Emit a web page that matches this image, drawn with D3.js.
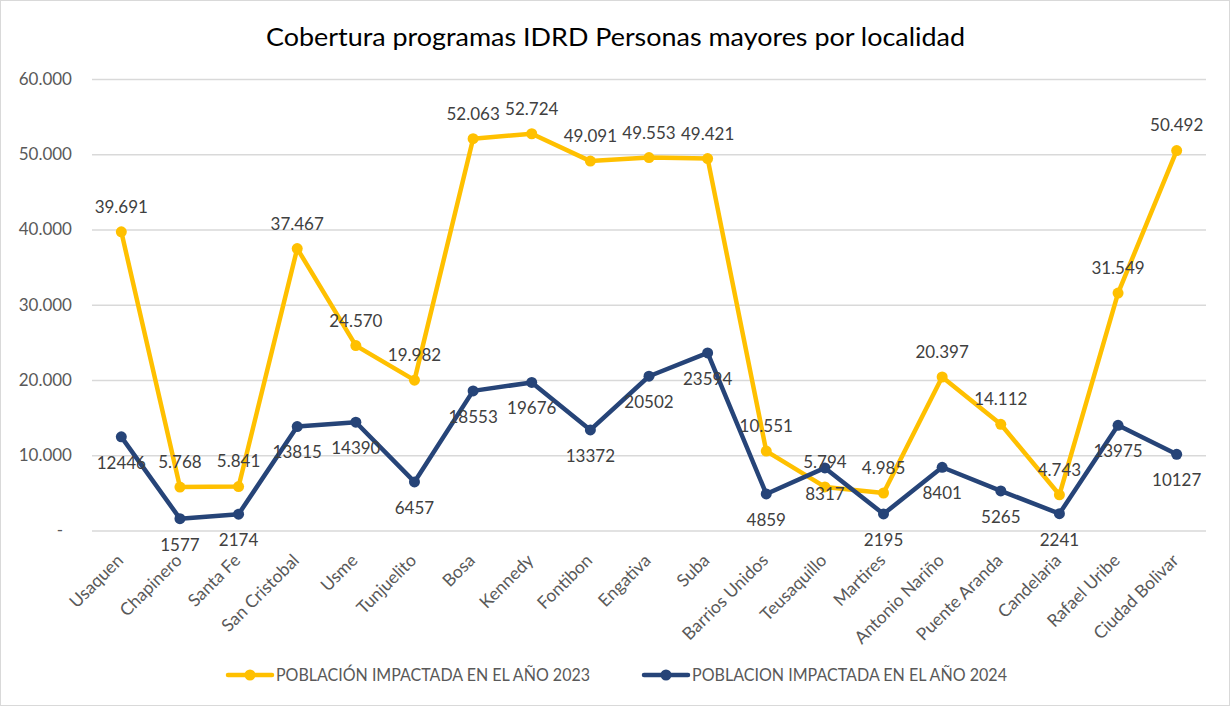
<!DOCTYPE html>
<html><head><meta charset="utf-8">
<script src="https://cdn.jsdelivr.net/npm/d3@7"></script>
<style>body{margin:0;background:#fff}svg{display:block}text{font-family:Lato,"Open Sans",sans-serif}</style>
</head><body>
<svg id="c" width="1231" height="707"></svg>
<script>
const title = "Cobertura programas IDRD Personas mayores por localidad";
const categories = ["Usaquen","Chapinero","Santa Fe","San Cristobal","Usme","Tunjuelito","Bosa","Kennedy","Fontibon","Engativa","Suba","Barrios Unidos","Teusaquillo","Martires","Antonio Nariño","Puente Aranda","Candelaria","Rafael Uribe","Ciudad Bolivar"];
const values2023 = [39691,5768,5841,37467,24570,19982,52063,52724,49091,49553,49421,10551,5794,4985,20397,14112,4743,31549,50492];
const values2024 = [12446,1577,2174,13815,14390,6457,18553,19676,13372,20502,23594,4859,8317,2195,8401,5265,2241,13975,10127];
const yTicks = [0,10000,20000,30000,40000,50000,60000];
const seriesNames = ["POBLACIÓN IMPACTADA EN EL AÑO 2023","POBLACION IMPACTADA EN EL AÑO 2024"];
const colors = ["#FFC000","#264478"];

const svg = d3.select("#c");
svg.append("rect").attr("x",0.5).attr("y",0.5).attr("width",1229).attr("height",705)
  .attr("fill","#fff").attr("stroke","#d9d9d9");

const x = d3.scaleBand().domain(categories).range([92,1206]);
const y = d3.scaleLinear().domain([0,60000]).range([530.5,79]);
const fmt = d3.formatLocale({decimal:",",thousands:".",grouping:[3]}).format(",d");

// title
svg.append("text").attr("x",266).attr("y",46).attr("font-size",25).attr("fill","#000")
  .attr("textLength",699).attr("lengthAdjust","spacingAndGlyphs").text(title);

// grid
const yAxis = d3.axisLeft(y).tickValues(yTicks).tickSize(-(1206-92)).tickFormat(d=> d===0?"-":fmt(d));
const gy = svg.append("g").attr("transform","translate(92,0)").call(yAxis);
gy.select(".domain").remove();
gy.selectAll(".tick line").attr("stroke","#d9d9d9").attr("stroke-width",1.3);
gy.selectAll(".tick text").attr("x",-20).attr("font-size",17).attr("fill","#595959").attr("font-family","Lato");
gy.selectAll(".tick").filter(d=>d===0).select("text").attr("x",-29);

// x axis labels
const xAxis = d3.axisBottom(x).tickSize(0);
const gx = svg.append("g").attr("transform","translate(0,530.5)").call(xAxis);
gx.select(".domain").remove();
gx.selectAll(".tick text").attr("font-size",17.5).attr("fill","#595959").attr("font-family","Lato")
  .attr("text-anchor","end").attr("dy",0).attr("y",0)
  .attr("transform","translate(3,31) rotate(-45)");

const cx = d => x(d) + x.bandwidth()/2;
const series = [values2023, values2024];
series.forEach((vals,i)=>{
  const pts = categories.map((c,j)=>({c, v: vals[j]}));
  const line = d3.line().x(d=>cx(d.c)).y(d=>y(d.v));
  svg.append("path").datum(pts).attr("d",line).attr("fill","none")
    .attr("stroke",colors[i]).attr("stroke-width",4.5).attr("stroke-linejoin","round");
  svg.append("g").selectAll("circle").data(pts).join("circle")
    .attr("cx",d=>cx(d.c)).attr("cy",d=>y(d.v)).attr("r",5.5).attr("fill",colors[i]);
});
// labels
series.forEach((vals,i)=>{
  svg.append("g").selectAll("text").data(categories.map((c,j)=>({c,v:vals[j]}))).join("text")
    .attr("x",d=>cx(d.c)).attr("y",d=>y(d.v) + (i===0 ? -25 : 26)).attr("dy","0.35em")
    .attr("text-anchor","middle").attr("font-size",17).attr("fill","#404040")
    .text(d=> i===0 ? fmt(d.v) : String(d.v));
});

// legend
const leg = [{x:228, w:314},{x:644, w:315}];
leg.forEach((l,i)=>{
  const g = svg.append("g").attr("transform",`translate(${l.x},675)`);
  g.append("line").attr("x1",0).attr("x2",44).attr("stroke",colors[i]).attr("stroke-width",4.5).attr("stroke-linecap","round");
  g.append("circle").attr("cx",22).attr("r",5.5).attr("fill",colors[i]);
  g.append("text").attr("x",48).attr("dy","0.35em").attr("font-size",17).attr("fill","#595959")
    .attr("textLength",l.w).attr("lengthAdjust","spacingAndGlyphs").text(seriesNames[i]);
});
</script>
</body></html>
